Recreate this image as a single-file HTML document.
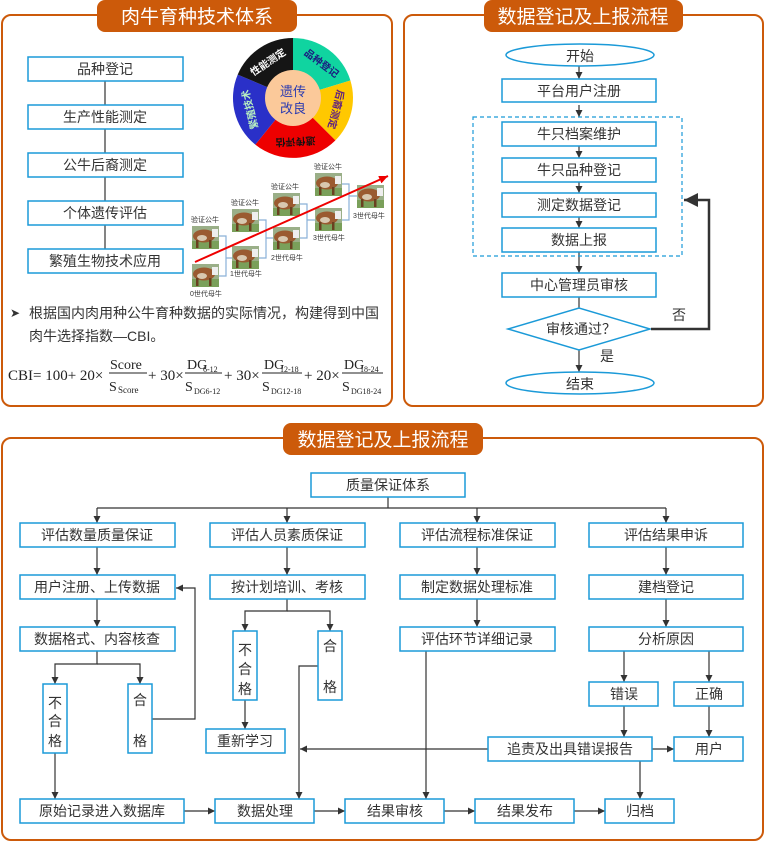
<!DOCTYPE html>
<html><head><meta charset="utf-8"><style>
html,body{margin:0;padding:0;background:#fff;}
svg{display:block;font-family:"Liberation Sans","Noto Sans CJK SC",sans-serif;}
.b{fill:#fff;stroke:#1b9ad8;stroke-width:1.5;}
.t{font-size:14px;fill:#333;text-anchor:middle;}
.l{stroke:#333;stroke-width:1.2;fill:none;}
.c{font-size:7px;fill:#333;}
</style></head><body>
<svg width="765" height="842" viewBox="0 0 765 842">
<defs>
<marker id="a" markerWidth="8" markerHeight="8" refX="7" refY="4" orient="auto" markerUnits="userSpaceOnUse"><path d="M0,0.5 L7,4 L0,7.5Z" fill="#333"/></marker>
<marker id="ab" markerWidth="16" markerHeight="16" refX="14" refY="8" orient="auto" markerUnits="userSpaceOnUse"><path d="M0,1 L14,8 L0,15Z" fill="#333"/></marker>
<marker id="ar" markerWidth="10" markerHeight="10" refX="9" refY="5" orient="auto" markerUnits="userSpaceOnUse"><path d="M0,1 L9,5 L0,9Z" fill="#e00"/></marker>
<g id="cow"><rect width="27" height="23" fill="#9aaf88"/><rect y="15" width="27" height="8" fill="#7aa05a"/><ellipse cx="12" cy="10" rx="11" ry="6.5" fill="#9a5a30"/><ellipse cx="10" cy="12" rx="5" ry="3" fill="#d8c8b0"/><rect x="20" y="3" width="6" height="8" fill="#eee"/><rect x="4" y="14" width="2.5" height="8" fill="#6a4020"/><rect x="17" y="14" width="2.5" height="8" fill="#6a4020"/></g>
</defs>

<!-- Panels -->
<rect x="2" y="15" width="390" height="391" rx="9" fill="none" stroke="#cc5a0a" stroke-width="2"/>
<rect x="97" y="0" width="200" height="32" rx="8" fill="#cc5a0a"/>
<text x="197" y="23" font-size="19" fill="#fff" text-anchor="middle">肉牛育种技术体系</text>
<rect x="404" y="15" width="359" height="391" rx="9" fill="none" stroke="#cc5a0a" stroke-width="2"/>
<rect x="484" y="0" width="199" height="32" rx="8" fill="#cc5a0a"/>
<text x="583" y="23" font-size="19" fill="#fff" text-anchor="middle">数据登记及上报流程</text>
<rect x="2" y="438" width="761" height="402" rx="9" fill="none" stroke="#cc5a0a" stroke-width="2"/>
<rect x="283" y="423" width="200" height="32" rx="8" fill="#cc5a0a"/>
<text x="383" y="446" font-size="19" fill="#fff" text-anchor="middle">数据登记及上报流程</text>

<!-- Top-left list -->
<line class="l" x1="105" y1="81" x2="105" y2="249"/>
<rect class="b" x="28" y="57" width="155" height="24"/><text class="t" x="105" y="74">品种登记</text>
<rect class="b" x="28" y="105" width="155" height="24"/><text class="t" x="105" y="122">生产性能测定</text>
<rect class="b" x="28" y="153" width="155" height="24"/><text class="t" x="105" y="170">公牛后裔测定</text>
<rect class="b" x="28" y="201" width="155" height="24"/><text class="t" x="105" y="218">个体遗传评估</text>
<rect class="b" x="28" y="249" width="155" height="24"/><text class="t" x="105" y="266">繁殖生物技术应用</text>

<!-- wheel -->
<path d="M293,98 L293,38 A60,60 0 0 1 350.4,80.5Z" fill="#10d4a0"/>
<path d="M293,98 L350.4,80.5 A60,60 0 0 1 335.4,140.4Z" fill="#ffc800"/>
<path d="M293,98 L335.4,140.4 A60,60 0 0 1 255.3,144.6Z" fill="#ee0000"/>
<path d="M293,98 L255.3,144.6 A60,60 0 0 1 237.7,74.6Z" fill="#2a30c8"/>
<path d="M293,98 L237.7,74.6 A60,60 0 0 1 293,38Z" fill="#151515"/>
<circle cx="293" cy="98" r="28" fill="#fbc99a"/>
<text x="293" y="96" font-size="13" fill="#2b3bb0" text-anchor="middle">遗传</text>
<text x="293" y="113" font-size="13" fill="#2b3bb0" text-anchor="middle">改良</text>
<g font-size="10" font-weight="bold" text-anchor="middle">
<text transform="translate(319.5,66) rotate(37)" fill="#1a1a80">品种登记</text>
<text transform="translate(332.7,108.6) rotate(104)" fill="#602080">后裔测定</text>
<text transform="translate(295.3,138) rotate(177)" fill="#111">遗传评估</text>
<text transform="translate(253.3,108.6) rotate(-104)" fill="#b8f0c0">繁殖技术</text>
<text transform="translate(270,65) rotate(-34)" fill="#fff">性能测定</text>
</g>

<!-- cattle -->
<g stroke="#8ab0d8" stroke-width="1.2" fill="none">
<path d="M219,236 H226 V276 H219 M226,258 H232"/>
<path d="M259,220 H266 V258 H259 M266,238 H273"/>
<path d="M300,204 H307 V238 H300 M307,220 H315"/>
<path d="M342,184 H349 V220 H342 M349,196 H357"/>
</g>
<use href="#cow" x="192" y="264"/><use href="#cow" x="192" y="226"/>
<use href="#cow" x="232" y="246"/><use href="#cow" x="232" y="209"/>
<use href="#cow" x="273" y="227"/><use href="#cow" x="273" y="193"/>
<use href="#cow" x="315" y="208"/><use href="#cow" x="315" y="173"/>
<use href="#cow" x="357" y="185"/>
<text class="c" x="191" y="222">验证公牛</text><text class="c" x="231" y="205">验证公牛</text>
<text class="c" x="271" y="189">验证公牛</text><text class="c" x="314" y="169">验证公牛</text>
<text class="c" x="190" y="296">0世代母牛</text><text class="c" x="230" y="276">1世代母牛</text>
<text class="c" x="271" y="260">2世代母牛</text><text class="c" x="313" y="240">3世代母牛</text>
<text class="c" x="353" y="218">3世代母牛</text>
<line x1="195" y1="262" x2="388" y2="176" stroke="#e00" stroke-width="2" marker-end="url(#ar)"/>

<!-- bullet text -->
<text x="10" y="317" font-size="12" fill="#333">➤</text>
<text x="29" y="318" font-size="14" fill="#333">根据国内肉用种公牛育种数据的实际情况，构建得到中国</text>
<text x="29" y="341" font-size="14" fill="#333">肉牛选择指数—CBI。</text>
<g font-family="'Liberation Serif',serif" fill="#222">
<text x="8" y="380" font-size="15">CBI= 100+ 20×</text>
<text x="110" y="369" font-size="14">Score</text><line x1="109" y1="373" x2="147" y2="373" stroke="#222"/>
<text x="109" y="391" font-size="14">S</text><text x="118" y="393" font-size="9">Score</text>
<text x="148" y="380" font-size="15">+ 30×</text>
<text x="187" y="369" font-size="14">DG</text><text x="203" y="372" font-size="8">6-12</text><line x1="185" y1="373" x2="222" y2="373" stroke="#222"/>
<text x="185" y="391" font-size="14">S</text><text x="194" y="394" font-size="8">DG6-12</text>
<text x="224" y="380" font-size="15">+ 30×</text>
<text x="264" y="369" font-size="14">DG</text><text x="280" y="372" font-size="8">12-18</text><line x1="262" y1="373" x2="302" y2="373" stroke="#222"/>
<text x="262" y="391" font-size="14">S</text><text x="271" y="394" font-size="8">DG12-18</text>
<text x="304" y="380" font-size="15">+ 20×</text>
<text x="344" y="369" font-size="14">DG</text><text x="360" y="372" font-size="8">18-24</text><line x1="342" y1="373" x2="383" y2="373" stroke="#222"/>
<text x="342" y="391" font-size="14">S</text><text x="351" y="394" font-size="8">DG18-24</text>
</g>

<!-- Top-right flow -->
<g class="l" marker-end="url(#a)">
<line x1="579" y1="66" x2="579" y2="79"/>
<line x1="579" y1="105" x2="579" y2="117"/>
<line x1="579" y1="146" x2="579" y2="158"/>
<line x1="579" y1="182" x2="579" y2="193"/>
<line x1="579" y1="217" x2="579" y2="228"/>
<line x1="579" y1="252" x2="579" y2="273"/>
<line x1="579" y1="297" x2="579" y2="316"/>
<line x1="579" y1="350" x2="579" y2="372"/>
</g>
<ellipse cx="580" cy="55" rx="74" ry="11" fill="#fff" stroke="#1b9ad8" stroke-width="1.5"/><text class="t" x="580" y="61">开始</text>
<rect class="b" x="502" y="79" width="154" height="23"/><text class="t" x="579" y="96">平台用户注册</text>
<rect x="473" y="117" width="209" height="139" fill="none" stroke="#1b9ad8" stroke-width="1.2" stroke-dasharray="4,3"/>
<rect class="b" x="502" y="122" width="154" height="24"/><text class="t" x="579" y="139">牛只档案维护</text>
<rect class="b" x="502" y="158" width="154" height="24"/><text class="t" x="579" y="175">牛只品种登记</text>
<rect class="b" x="502" y="193" width="154" height="24"/><text class="t" x="579" y="210">测定数据登记</text>
<rect class="b" x="502" y="228" width="154" height="24"/><text class="t" x="579" y="245">数据上报</text>
<rect class="b" x="502" y="273" width="154" height="24"/><text class="t" x="579" y="290">中心管理员审核</text>
<path d="M508,329 L579,308 L650,329 L579,350Z" class="b"/><text class="t" x="581" y="334">审核通过？</text>
<ellipse cx="580" cy="383" rx="74" ry="11" fill="#fff" stroke="#1b9ad8" stroke-width="1.5"/><text class="t" x="580" y="389">结束</text>
<path d="M651,329 H709 V200 H684" fill="none" stroke="#333" stroke-width="2.5" marker-end="url(#ab)"/>
<text class="t" x="679" y="320">否</text><text class="t" x="607" y="361">是</text>

<!-- Bottom -->
<g class="l">
<line x1="388" y1="497" x2="388" y2="508"/>
<line x1="97" y1="508" x2="666" y2="508"/>
</g>
<g class="l" marker-end="url(#a)">
<line x1="97" y1="508" x2="97" y2="523"/><line x1="287" y1="508" x2="287" y2="523"/>
<line x1="477" y1="508" x2="477" y2="523"/><line x1="666" y1="508" x2="666" y2="523"/>
<line x1="97" y1="547" x2="97" y2="575"/><line x1="97" y1="599" x2="97" y2="627"/>
<line x1="287" y1="547" x2="287" y2="575"/>
<line x1="477" y1="547" x2="477" y2="575"/><line x1="477" y1="599" x2="477" y2="627"/>
<line x1="666" y1="547" x2="666" y2="575"/><line x1="666" y1="599" x2="666" y2="627"/>
<path d="M97,651 V664 H55 V684"/><path d="M97,664 H140 V684"/>
<path d="M152,719 H195 V588 H176"/>
<line x1="55" y1="753" x2="55" y2="799"/>
<path d="M287,599 V611 H245 V631"/><path d="M287,611 H330 V631"/>
<line x1="245" y1="700" x2="245" y2="729"/>
<path d="M318,666 H299 V799"/>
<line x1="488" y1="749" x2="300" y2="749"/>
<line x1="426" y1="651" x2="426" y2="799"/>
<line x1="624" y1="651" x2="624" y2="682"/><line x1="709" y1="651" x2="709" y2="682"/>
<line x1="624" y1="706" x2="624" y2="737"/><line x1="709" y1="706" x2="709" y2="737"/>
<line x1="652" y1="749" x2="674" y2="749"/>
<line x1="640" y1="761" x2="640" y2="799"/>
<line x1="184" y1="811" x2="215" y2="811"/><line x1="314" y1="811" x2="345" y2="811"/>
<line x1="444" y1="811" x2="475" y2="811"/><line x1="574" y1="811" x2="605" y2="811"/>
</g>
<rect class="b" x="311" y="473" width="154" height="24"/><text class="t" x="388" y="490">质量保证体系</text>
<rect class="b" x="20" y="523" width="155" height="24"/><text class="t" x="97" y="540">评估数量质量保证</text>
<rect class="b" x="210" y="523" width="155" height="24"/><text class="t" x="287" y="540">评估人员素质保证</text>
<rect class="b" x="400" y="523" width="155" height="24"/><text class="t" x="477" y="540">评估流程标准保证</text>
<rect class="b" x="589" y="523" width="154" height="24"/><text class="t" x="666" y="540">评估结果申诉</text>
<rect class="b" x="20" y="575" width="155" height="24"/><text class="t" x="97" y="592">用户注册、上传数据</text>
<rect class="b" x="210" y="575" width="155" height="24"/><text class="t" x="287" y="592">按计划培训、考核</text>
<rect class="b" x="400" y="575" width="155" height="24"/><text class="t" x="477" y="592">制定数据处理标准</text>
<rect class="b" x="589" y="575" width="154" height="24"/><text class="t" x="666" y="592">建档登记</text>
<rect class="b" x="20" y="627" width="155" height="24"/><text class="t" x="97" y="644">数据格式、内容核查</text>
<rect class="b" x="400" y="627" width="155" height="24"/><text class="t" x="477" y="644">评估环节详细记录</text>
<rect class="b" x="589" y="627" width="154" height="24"/><text class="t" x="666" y="644">分析原因</text>
<rect class="b" x="43" y="684" width="24" height="69"/><text class="t" x="55" y="708">不</text><text class="t" x="55" y="726">合</text><text class="t" x="55" y="746">格</text>
<rect class="b" x="128" y="684" width="24" height="69"/><text class="t" x="140" y="705">合</text><text class="t" x="140" y="746">格</text>
<rect class="b" x="233" y="631" width="24" height="69"/><text class="t" x="245" y="655">不</text><text class="t" x="245" y="674">合</text><text class="t" x="245" y="694">格</text>
<rect class="b" x="318" y="631" width="24" height="69"/><text class="t" x="330" y="651">合</text><text class="t" x="330" y="692">格</text>
<rect class="b" x="206" y="729" width="79" height="24"/><text class="t" x="245" y="746">重新学习</text>
<rect class="b" x="589" y="682" width="69" height="24"/><text class="t" x="624" y="699">错误</text>
<rect class="b" x="674" y="682" width="69" height="24"/><text class="t" x="709" y="699">正确</text>
<rect class="b" x="488" y="737" width="164" height="24"/><text class="t" x="570" y="754">追责及出具错误报告</text>
<rect class="b" x="674" y="737" width="69" height="24"/><text class="t" x="709" y="754">用户</text>
<rect class="b" x="20" y="799" width="164" height="24"/><text class="t" x="102" y="816">原始记录进入数据库</text>
<rect class="b" x="215" y="799" width="99" height="24"/><text class="t" x="265" y="816">数据处理</text>
<rect class="b" x="345" y="799" width="99" height="24"/><text class="t" x="395" y="816">结果审核</text>
<rect class="b" x="475" y="799" width="99" height="24"/><text class="t" x="525" y="816">结果发布</text>
<rect class="b" x="605" y="799" width="69" height="24"/><text class="t" x="640" y="816">归档</text>
</svg>
</body></html>
